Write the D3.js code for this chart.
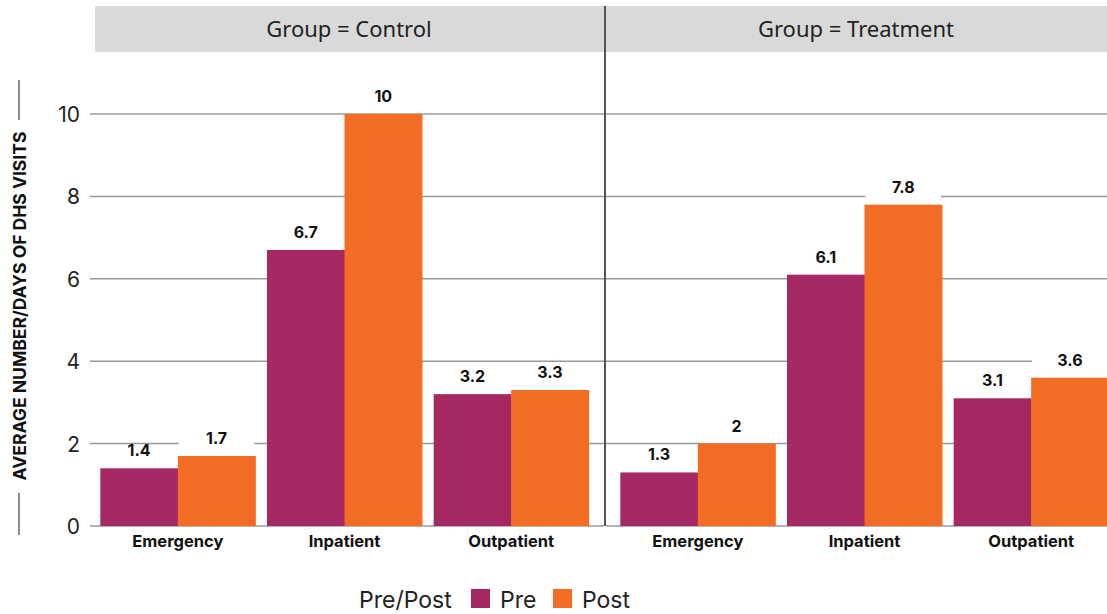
<!DOCTYPE html>
<html><head><meta charset="utf-8">
<script src="https://cdn.jsdelivr.net/npm/d3@7"></script>
<style>
html,body{margin:0;padding:0;background:#fff;}
svg{display:block;font-family:Inter, "Noto Sans", sans-serif;}
</style></head>
<body>
<svg id="chart" width="1107" height="614"></svg>
<script>
const groups = ["Control", "Treatment"];
const categories = ["Emergency", "Inpatient", "Outpatient"];
const phases = ["Pre", "Post"];
const preValues = { Control: [1.4, 6.7, 3.2], Treatment: [1.3, 6.1, 3.1] };
const postValues = { Control: [1.7, 10.0, 3.3], Treatment: [2.0, 7.8, 3.6] };
const preLabels = { Control: ["1.4", "6.7", "3.2"], Treatment: ["1.3", "6.1", "3.1"] };
const postLabels = { Control: ["1.7", "10", "3.3"], Treatment: ["2", "7.8", "3.6"] };
const yTicks = [0, 2, 4, 6, 8, 10];
const yTitle = "AVERAGE NUMBER/DAYS OF DHS VISITS";
const legendTitle = "Pre/Post";
const colors = { Pre: "#a52862", Post: "#f36c23" };

const svg = d3.select("#chart");
const y = d3.scaleLinear().domain([0, 10]).range([526, 114]);
const panelX = d3.scaleBand().domain(groups).range([92, 1117]).paddingInner(15 / 520).paddingOuter(0);
const panelGrid = { Control: [90, 604], Treatment: [606, 1107] };
const stripX = { Control: [95, 604], Treatment: [606, 1107] };

// y axis title with decorative lines
svg.append("line").attr("x1", 19).attr("x2", 19).attr("y1", 80).attr("y2", 120).attr("stroke", "#444").attr("stroke-width", 1.2);
svg.append("line").attr("x1", 19).attr("x2", 19).attr("y1", 493).attr("y2", 535).attr("stroke", "#444").attr("stroke-width", 1.2);
svg.append("text").attr("transform", "translate(25.5,306) rotate(-90)")
  .attr("text-anchor", "middle").attr("font-weight", 700).attr("font-size", 17.5)
  .attr("fill", "#111").text(yTitle);

// y tick labels
const yAxis = d3.axisLeft(y).tickValues(yTicks).tickSize(0).tickPadding(0).tickFormat(d3.format("d"));
const ya = svg.append("g").attr("transform", "translate(80,0)").call(yAxis);
ya.select(".domain").remove();
ya.selectAll("text").attr("font-size", 21).attr("fill", "#222").attr("font-family", "Inter, sans-serif").attr("dy", "0.36em");

groups.forEach(g => {
  const px = panelX(g);
  const pw = panelX.bandwidth();
  const gx = panelGrid[g];
  const sx = stripX[g];
  const panel = svg.append("g");
  // header strip
  panel.append("rect").attr("x", sx[0]).attr("y", 6)
    .attr("width", sx[1] - sx[0] + 1).attr("height", 46).attr("fill", "#d9d9d9");
  panel.append("text").attr("x", (sx[0] + sx[1]) / 2 - 0.5).attr("y", 37)
    .attr("text-anchor", "middle").attr("font-size", 22).attr("fill", "#222")
    .attr("font-family", "'Noto Sans', sans-serif").text("Group = " + g);
  // gridlines
  panel.selectAll("line.grid").data(yTicks).join("line").attr("class", "grid")
    .attr("x1", gx[0]).attr("x2", gx[1]).attr("y1", d => y(d)).attr("y2", d => y(d))
    .attr("stroke", "#9a9a9a").attr("stroke-width", 1.5);
  const x = d3.scaleBand().domain(categories).range([px, px + pw]).paddingInner(0.07).paddingOuter(0.05);
  const xs = d3.scaleBand().domain(phases).range([0, x.bandwidth()]).padding(0);
  const data = [];
  categories.forEach((c, i) => {
    data.push({ c, p: "Pre", v: preValues[g][i], l: preLabels[g][i] });
    data.push({ c, p: "Post", v: postValues[g][i], l: postLabels[g][i] });
  });
  panel.selectAll("rect.bar").data(data).join("rect").attr("class", "bar")
    .attr("x", d => x(d.c) + xs(d.p)).attr("width", xs.bandwidth() + 0.5)
    .attr("y", d => y(d.v)).attr("height", d => y(0) - y(d.v))
    .attr("fill", d => colors[d.p]);
  panel.selectAll("rect.lbg").data(data).join("rect").attr("class", "lbg")
    .attr("x", d => x(d.c) + xs(d.p) + 1).attr("width", xs.bandwidth() - 2)
    .attr("y", d => y(d.v) - 20).attr("height", 19).attr("fill", "#fff");
  panel.selectAll("text.lbl").data(data).join("text").attr("class", "lbl")
    .attr("x", d => x(d.c) + xs(d.p) + xs.bandwidth() / 2).attr("y", d => y(d.v) - 12)
    .attr("text-anchor", "middle").attr("font-weight", 700).attr("font-size", 16).attr("fill", "#111")
    .text(d => d.l);
  // category labels
  const xa = panel.append("g").attr("transform", `translate(0,${y(0)})`)
    .call(d3.axisBottom(x).tickSize(0).tickPadding(0));
  xa.select(".domain").remove();
  xa.selectAll("text").attr("font-size", 16.5).attr("font-weight", 700).attr("fill", "#111")
    .attr("font-family", "Inter, sans-serif").attr("dy", "1.3em");
});

// separator
svg.append("line").attr("x1", 605).attr("x2", 605).attr("y1", 6).attr("y2", 526).attr("stroke", "#555").attr("stroke-width", 2);

// legend
const leg = svg.append("g").attr("font-size", 23).attr("fill", "#222");
leg.append("text").attr("x", 359).attr("y", 608).attr("fill", "#222").text(legendTitle);
const legX = d3.scaleOrdinal().domain(phases).range([471, 553]);
phases.forEach(p => {
  leg.append("rect").attr("x", legX(p)).attr("y", 589).attr("width", 19).attr("height", 19).attr("fill", colors[p]);
  leg.append("text").attr("x", legX(p) + 29).attr("y", 608).attr("fill", "#222").text(p);
});
</script>
</body></html>
